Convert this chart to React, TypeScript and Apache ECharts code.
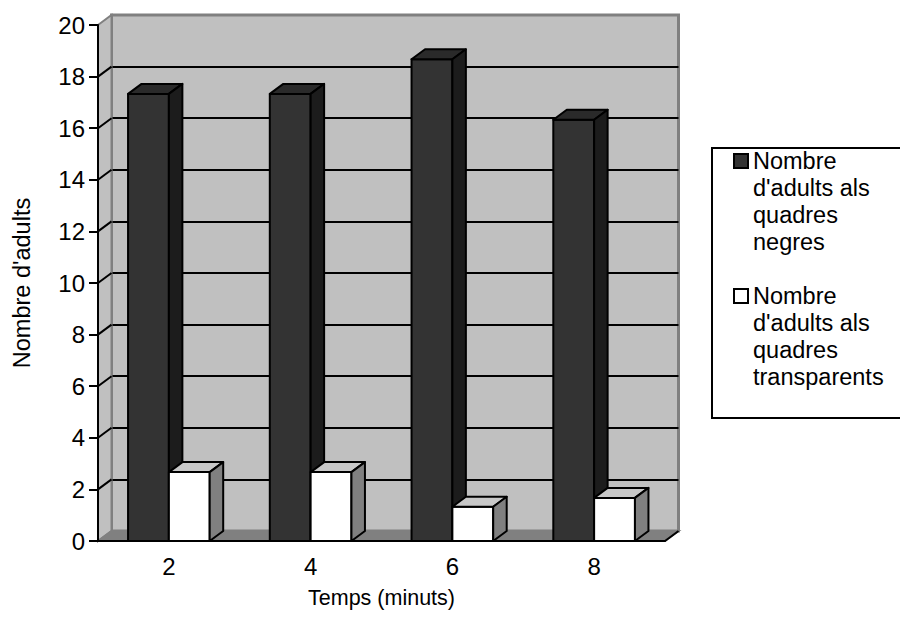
import React, { useEffect, useRef } from "react";
import * as echarts from "echarts";

const categories = ["2", "4", "6", "8"];
const seriesNames = [
  "Nombre d'adults als quadres negres",
  "Nombre d'adults als quadres transparents",
];
const legendLines = [
  ["Nombre", "d'adults als", "quadres", "negres"],
  ["Nombre", "d'adults als", "quadres", "transparents"],
];
const blackSquares = [17.33, 17.33, 18.67, 16.33];
const clearSquares = [2.67, 2.67, 1.33, 1.67];
const yTicks = [0, 2, 4, 6, 8, 10, 12, 14, 16, 18, 20];

const DX = 13.5;
const DY = -10;
const FONT = "Arial, 'Liberation Sans', sans-serif";

const barColors = [
  { front: "#333333", top: "#2a2a2a", side: "#1c1c1c" },
  { front: "#ffffff", top: "#c8c8c8", side: "#808080" },
];

function makeBarRenderer(seriesIdx: number) {
  return (params: any, api: any) => {
    const c = api.value(0);
    const v = api.value(1);
    const base = api.coord([c, 0]);
    const top = api.coord([c, v]);
    const bandW = api.size([1, 0])[0];
    const barW = bandW * 0.288;
    const x0 = seriesIdx === 0 ? base[0] - barW : base[0];
    const x1 = x0 + barW;
    const yb = base[1];
    const yt = top[1];
    const col = barColors[seriesIdx];
    const stroke = { stroke: "#000", lineWidth: 2, lineJoin: "round" };
    return {
      type: "group",
      children: [
        {
          type: "polygon",
          shape: { points: [[x0, yb], [x0, yt], [x1, yt], [x1, yb]] },
          style: { fill: col.front, ...stroke },
        },
        {
          type: "polygon",
          shape: {
            points: [[x0, yt], [x0 + DX, yt + DY], [x1 + DX, yt + DY], [x1, yt]],
          },
          style: { fill: col.top, ...stroke },
        },
        {
          type: "polygon",
          shape: {
            points: [[x1, yt], [x1 + DX, yt + DY], [x1 + DX, yb + DY], [x1, yb]],
          },
          style: { fill: col.side, ...stroke },
        },
      ],
    };
  };
}

function renderWalls(params: any, api: any) {
  const cs = params.coordSys;
  const x = cs.x;
  const y = cs.y;
  const w = cs.width;
  const h = cs.height;
  const children: any[] = [];
  children.push({
    type: "polygon",
    shape: { points: [[x, y], [x + DX, y + DY], [x + DX, y + h + DY], [x, y + h]] },
    style: { fill: "#c0c0c0", stroke: "#808080", lineWidth: 2 },
  });
  children.push({
    type: "polygon",
    shape: {
      points: [[x, y + h], [x + w, y + h], [x + w + DX, y + h + DY], [x + DX, y + h + DY]],
    },
    style: { fill: "#808080", stroke: "#808080", lineWidth: 2 },
  });
  children.push({
    type: "line",
    shape: { x1: x + w, y1: y + h, x2: x + w + DX, y2: y + h + DY },
    style: { stroke: "#000", lineWidth: 2 },
  });
  yTicks.forEach((t) => {
    if (t === 0 || t === 20) return;
    const py = api.coord([0, t])[1];
    children.push({
      type: "line",
      shape: { x1: x, y1: py, x2: x + DX, y2: py + DY },
      style: { stroke: "#000", lineWidth: 2 },
    });
  });
  return { type: "group", children };
}

export default function App() {
  const ref = useRef<HTMLDivElement>(null);
  useEffect(() => {
    if (!ref.current) return;
    const chart = echarts.init(ref.current, undefined, { renderer: "svg" });
    const legendGraphic: any[] = [
      {
        type: "rect",
        shape: { x: 712, y: 148, width: 200, height: 270 },
        style: { fill: "#fff", stroke: "#000", lineWidth: 2 },
        z: 10,
      },
    ];
    const entryTops = [147, 282];
    legendLines.forEach((lines, i) => {
      legendGraphic.push({
        type: "rect",
        shape: { x: 734, y: entryTops[i] + 7, width: 14, height: 14 },
        style: { fill: barColors[i].front, stroke: "#000", lineWidth: 2 },
        z: 11,
      });
      legendGraphic.push({
        type: "text",
        x: 753,
        y: entryTops[i],
        style: {
          text: lines.join("\n"),
          font: `23.5px ${FONT}`,
          fill: "#000",
          lineHeight: 27,
          verticalAlign: "top",
          align: "left",
        },
        z: 11,
      });
    });

    const option: any = {
      animation: false,
      backgroundColor: "#fff",
      textStyle: { fontFamily: FONT },
      grid: [
        { left: 98, top: 25, width: 567, height: 516, show: false },
        {
          left: 98 + DX,
          top: 25 + DY,
          width: 567,
          height: 516,
          show: true,
          backgroundColor: "#c0c0c0",
          borderColor: "#808080",
          borderWidth: 3,
        },
      ],
      xAxis: [
        {
          gridIndex: 0,
          type: "category",
          data: categories,
          boundaryGap: true,
          z: 5,
          axisLine: { lineStyle: { color: "#000", width: 2 } },
          axisTick: { length: 9, lineStyle: { color: "#000", width: 2 } },
          axisLabel: { fontSize: 24, color: "#000", margin: 13, fontFamily: FONT },
          name: "Temps (minuts)",
          nameLocation: "middle",
          nameGap: 46,
          nameTextStyle: { fontSize: 21.5, color: "#000", fontFamily: FONT },
        },
        { gridIndex: 1, type: "category", data: categories, show: false },
      ],
      yAxis: [
        {
          gridIndex: 0,
          type: "value",
          min: 0,
          max: 20,
          interval: 2,
          z: 5,
          axisLine: { show: true, lineStyle: { color: "#000", width: 2 } },
          axisTick: { show: true, length: 9, lineStyle: { color: "#000", width: 2 } },
          axisLabel: { fontSize: 24, color: "#000", margin: 13, fontFamily: FONT },
          splitLine: { show: false },
          name: "Nombre d'adults",
          nameLocation: "middle",
          nameRotate: 90,
          nameGap: 64,
          nameTextStyle: { fontSize: 23.5, color: "#000", fontFamily: FONT },
        },
        {
          gridIndex: 1,
          type: "value",
          min: 0,
          max: 20,
          interval: 2,
          axisLine: { show: false },
          axisTick: { show: false },
          axisLabel: { show: false },
          splitLine: {
            show: true,
            showMinLine: false,
            showMaxLine: false,
            lineStyle: { color: "#000", width: 2 },
          },
        },
      ],
      series: [
        {
          type: "custom",
          name: "walls",
          xAxisIndex: 0,
          yAxisIndex: 0,
          data: [[0, 0]],
          renderItem: renderWalls,
          clip: false,
          silent: true,
          z: 1,
        },
        {
          type: "custom",
          name: seriesNames[0],
          xAxisIndex: 0,
          yAxisIndex: 0,
          data: blackSquares.map((v, i) => [i, v]),
          renderItem: makeBarRenderer(0),
          clip: false,
          z: 2,
        },
        {
          type: "custom",
          name: seriesNames[1],
          xAxisIndex: 0,
          yAxisIndex: 0,
          data: clearSquares.map((v, i) => [i, v]),
          renderItem: makeBarRenderer(1),
          clip: false,
          z: 3,
        },
      ],
      graphic: legendGraphic,
    };
    chart.setOption(option);
    return () => chart.dispose();
  }, []);
  return (
    <div
      ref={ref}
      style={{ position: "fixed", left: 0, top: 0, width: 900, height: 633 }}
    />
  );
}
